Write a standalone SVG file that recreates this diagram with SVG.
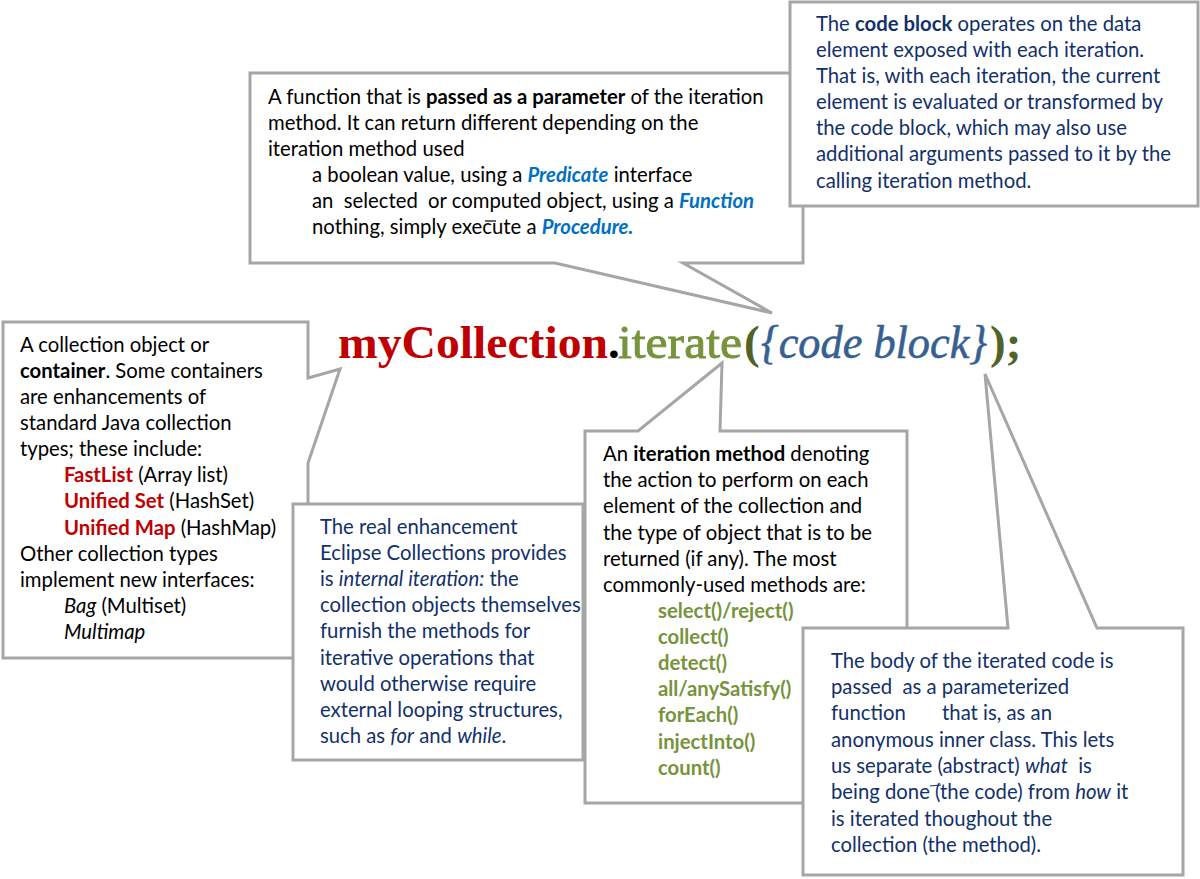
<svg xmlns="http://www.w3.org/2000/svg" width="1200" height="879" viewBox="0 0 1200 879">
<style>
.box{fill:#fff;stroke:#A6A6A6;stroke-width:3;stroke-linejoin:miter}
.t{font-family:Lato,"Open Sans","DejaVu Sans",sans-serif;font-size:20.3px;fill:#000}
.n{fill:#12306A}
.b{font-weight:bold}
.i{font-style:italic}
.blue{fill:#0070C0;font-weight:bold;font-style:italic}
.red{fill:#C00000;font-weight:bold}
.grn{fill:#77933C;font-weight:bold}
.title{font-family:"Liberation Serif","DejaVu Serif",serif;font-size:47px}
</style>
<rect width="1200" height="879" fill="#fff"/>
<g id="connectors"></g>
<g id="function-callout">
<path class="box" d="M250,73 H803 V263 H683 L772,313 L555,263 H250 Z"/>
<text class="t" x="268" y="104">A function that is <tspan class="b">passed as a parameter</tspan> of the iteration</text>
<text class="t" x="268" y="130">method. It can return different depending on the</text>
<text class="t" x="268" y="156">iteration method used</text>
<text class="t" x="312" y="182">a boolean value, using a <tspan class="blue">Predicate</tspan> interface</text>
<text class="t" x="312" y="208" xml:space="preserve">an  selected  or computed object, using a <tspan class="blue">Function</tspan></text>
<text class="t" x="312" y="234">nothing, simply execute a <tspan class="blue">Procedure.</tspan></text>
<line x1="485" y1="221" x2="496" y2="221" stroke="#000" stroke-width="1.2"/>
</g>
<g id="codeblock-callout">
<rect class="box" x="790" y="2" width="408" height="204"/>
<text class="t n" x="816" y="31">The <tspan class="b">code block</tspan> operates on the data</text>
<text class="t n" x="816" y="57">element exposed with each iteration.</text>
<text class="t n" x="816" y="83">That is, with each iteration, the current</text>
<text class="t n" x="816" y="109">element is evaluated or transformed by</text>
<text class="t n" x="816" y="135">the code block, which may also use</text>
<text class="t n" x="816" y="161">additional arguments passed to it by the</text>
<text class="t n" x="816" y="188">calling iteration method.</text>
</g>
<g id="collection-callout">
<path class="box" d="M3,322 H308 V378 L340,369 L308,463 V658 H3 Z"/>
<text class="t" x="20" y="352">A collection object or</text>
<text class="t" x="20" y="378"><tspan class="b">container</tspan>. Some containers</text>
<text class="t" x="20" y="404">are enhancements of</text>
<text class="t" x="20" y="430">standard Java collection</text>
<text class="t" x="20" y="456">types; these include:</text>
<text class="t" x="64" y="482"><tspan class="red">FastList</tspan> (Array list)</text>
<text class="t" x="64" y="508"><tspan class="red">Unified Set</tspan> (HashSet)</text>
<text class="t" x="64" y="535"><tspan class="red">Unified Map</tspan> (HashMap)</text>
<text class="t" x="20" y="561">Other collection types</text>
<text class="t" x="20" y="587">implement new interfaces:</text>
<text class="t" x="64" y="613"><tspan class="i">Bag</tspan> (Multiset)</text>
<text class="t i" x="64" y="639">Multimap</text>
</g>
<g id="internal-iteration-box">
<rect class="box" x="293" y="504" width="290" height="256"/>
<text class="t n" x="320" y="534">The real enhancement</text>
<text class="t n" x="320" y="560">Eclipse Collections provides</text>
<text class="t n" x="320" y="586">is <tspan class="i">internal iteration:</tspan> the</text>
<text class="t n" x="320" y="612">collection objects themselves</text>
<text class="t n" x="320" y="638">furnish the methods for</text>
<text class="t n" x="320" y="665">iterative operations that</text>
<text class="t n" x="320" y="691">would otherwise require</text>
<text class="t n" x="320" y="717">external looping structures,</text>
<text class="t n" x="320" y="743">such as <tspan class="i">for</tspan> and <tspan class="i">while</tspan>.</text>
</g>
<g id="iteration-method-callout">
<path class="box" d="M585,431 H638 L722,363 L720,431 H907 V803 H585 Z"/>
<text class="t" x="603" y="461">An <tspan class="b">iteration method</tspan> denoting</text>
<text class="t" x="603" y="487">the action to perform on each</text>
<text class="t" x="603" y="513">element of the collection and</text>
<text class="t" x="603" y="540">the type of object that is to be</text>
<text class="t" x="603" y="566">returned (if any). The most</text>
<text class="t" x="603" y="592">commonly-used methods are:</text>
<text class="t grn" x="658" y="618">select()/reject()</text>
<text class="t grn" x="658" y="644">collect()</text>
<text class="t grn" x="658" y="670">detect()</text>
<text class="t grn" x="658" y="696">all/anySatisfy()</text>
<text class="t grn" x="658" y="722">forEach()</text>
<text class="t grn" x="658" y="749">injectInto()</text>
<text class="t grn" x="658" y="775">count()</text>
</g>
<g id="body-callout">
<path class="box" d="M803,628 H1008 L985,374 L1097,628 H1183 V875 H803 Z"/>
<text class="t n" x="831" y="668">The body of the iterated code is</text>
<text class="t n" x="831" y="694" xml:space="preserve">passed  as a parameterized</text>
<text class="t n" x="831" y="720" xml:space="preserve">function       that is, as an</text>
<text class="t n" x="831" y="747">anonymous inner class. This lets</text>
<text class="t n" x="831" y="773" xml:space="preserve">us separate (abstract) <tspan class="i">what</tspan>  is</text>
<text class="t n" x="831" y="799">being done (the code) from <tspan class="i">how</tspan> it</text>
<text class="t n" x="831" y="826">is iterated thoughout the</text>
<text class="t n" x="831" y="852">collection (the method).</text>
<line x1="930" y1="786" x2="941" y2="785" stroke="#12306A" stroke-width="1.2"/>
</g>
<g id="title">
<text class="title" y="358"><tspan x="338" font-weight="bold" fill="#C00000" textLength="270" lengthAdjust="spacingAndGlyphs">myCollection</tspan><tspan x="608" font-weight="bold" fill="#000">.</tspan><tspan x="618" fill="#77933C" stroke="#77933C" stroke-width="0.9" textLength="124" lengthAdjust="spacingAndGlyphs">iterate</tspan><tspan x="744" font-weight="bold" fill="#4F6228">(</tspan><tspan x="761" font-style="italic" fill="#376092" stroke="#376092" stroke-width="0.6" textLength="226" lengthAdjust="spacingAndGlyphs">{code block}</tspan><tspan x="990" font-weight="bold" fill="#4F6228">);</tspan></text>
</g>
</svg>
